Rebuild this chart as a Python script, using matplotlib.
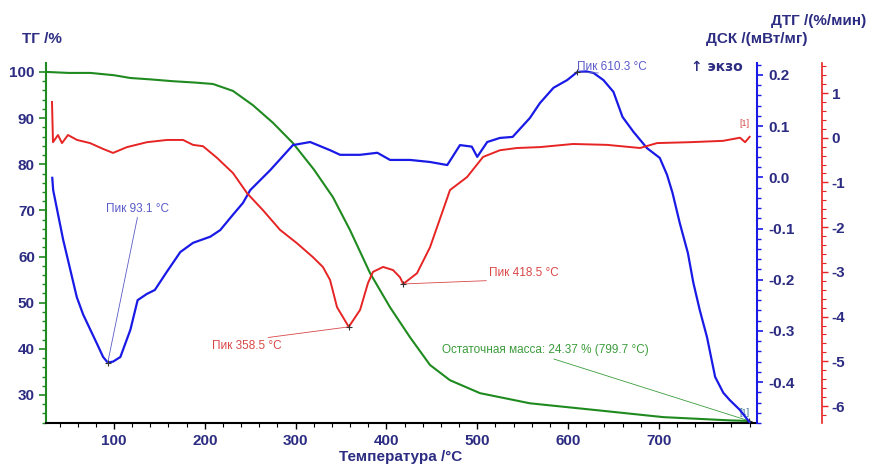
import matplotlib
matplotlib.use('Agg')
import matplotlib.pyplot as plt
from matplotlib.ticker import MultipleLocator

plt.rcParams['font.family'] = ['Liberation Sans', 'DejaVu Sans']
plt.rcParams['axes.unicode_minus'] = False

# ---- data ----
T_tg = [27, 50, 74, 100, 118, 140, 165, 190, 209, 231, 253, 275, 297, 320, 341,
        360, 382, 404, 426, 448, 470, 503, 558, 632, 705, 778, 799.7]
tg = [100.0, 99.8, 99.8, 99.3, 98.7, 98.4, 98.0, 97.7, 97.4, 95.9, 92.8, 89.0, 84.6,
      78.9, 72.9, 65.7, 56.4, 49.0, 42.5, 36.5, 33.2, 30.4, 28.2, 26.7, 25.2, 24.5, 24.37]

T_dsc = [32, 33, 44, 59, 66, 74, 82, 88, 93.1, 99, 107, 118, 126, 136, 145, 158, 173, 187, 206,
         217, 231, 242, 250, 272, 297, 316, 338, 349, 371, 390, 404, 426, 448, 467,
         481, 494, 500, 511, 525, 539, 558, 569, 584, 599, 610.3, 620, 628, 639, 650, 660,
         672, 687, 701, 709, 715, 723, 732, 738, 745, 753, 762, 771, 778, 789, 799.7]
dsc = [-0.001, -0.025, -0.122, -0.234, -0.268, -0.298, -0.328, -0.351, -0.362, -0.360, -0.351,
       -0.298, -0.240, -0.228, -0.220, -0.185, -0.146, -0.128, -0.116, -0.103, -0.073,
       -0.050, -0.025, 0.014, 0.063, 0.069, 0.053, 0.044, 0.044, 0.048, 0.034, 0.034,
       0.030, 0.024, 0.063, 0.060, 0.040, 0.069, 0.077, 0.079, 0.116, 0.145, 0.175,
       0.190, 0.206, 0.207, 0.204, 0.190, 0.167, 0.118, 0.089, 0.057, 0.038, 0.005,
       -0.030, -0.089, -0.148, -0.206, -0.259, -0.312, -0.390, -0.421, -0.435, -0.454,
       -0.478]

T_dtg = [31.7, 32.8, 38.3, 42.7, 49.3, 59.3, 73.6, 87.9, 98.9, 114.3, 136.3, 158.4,
         176, 187, 198, 213.4, 231, 246.5, 264, 282.8, 301.5, 319, 330, 337.9, 345.6,
         358.5, 371, 379.7, 385.2, 396.3, 407.3, 414.9, 418.5, 433.7, 448, 462.3, 470,
         488.8, 506.4, 525, 543.8, 569, 605.5, 643, 679.3, 698, 734, 770.7, 789.4, 795, 800]
dtg = [0.8, -0.1, 0.06, -0.12, 0.06, -0.05, -0.12, -0.25, -0.34, -0.21, -0.10, -0.05,
       -0.05, -0.16, -0.19, -0.45, -0.79, -1.24, -1.62, -2.06, -2.36, -2.67, -2.89,
       -3.18, -3.79, -4.23, -3.85, -3.25, -3.0, -2.89, -2.96, -3.12, -3.27, -3.03,
       -2.45, -1.62, -1.17, -0.88, -0.43, -0.28, -0.23, -0.21, -0.14, -0.16, -0.23,
       -0.12, -0.10, -0.07, 0.0, -0.1, 0.02]

peak_dsc = [(93.1, -0.362, 'Пик 93.1 °C'), (610.3, 0.206, 'Пик 610.3 °C')]
peak_dtg = [(358.5, -4.23, 'Пик 358.5 °C'), (418.5, -3.27, 'Пик 418.5 °C')]
residual = (799.7, 24.37, 'Остаточная масса: 24.37 % (799.7 °C)')

# ---- styling ----
GREEN = '#1f8a1f'
BLUE = '#1a1ae6'
RED = '#e62424'
NAVY = '#2c2c82'

W, H = 874, 465
fig = plt.figure(figsize=(W / 100, H / 100), dpi=100)
L, R, B, Tp = 46, 757, 423, 63
ax = fig.add_axes([L / W, 1 - B / H, (R - L) / W, (B - Tp) / H])
ax2 = ax.twinx()
ax3 = ax.twinx()

ax.set_xlim(25.1, 808.1)
ax.set_ylim(23.93, 101.95)
ax2.set_ylim(-0.480, 0.2234)
ax3.set_ylim(-6.38, 1.671)

ax.plot(T_tg, tg, color=GREEN, lw=1.5, zorder=3)
ax2.plot(T_dsc, dsc, color=BLUE, lw=1.6, zorder=3)
ax3.plot(T_dtg, dtg, color=RED, lw=1.4, zorder=2)

# spines
for s in ['top', 'right']:
    ax.spines[s].set_visible(False)
ax.spines['left'].set_color(GREEN)
ax.spines['left'].set_linewidth(1.5)
ax.spines['bottom'].set_color('black')
ax.spines['bottom'].set_linewidth(1.5)
for s in ['top', 'left', 'bottom']:
    ax2.spines[s].set_visible(False)
    ax3.spines[s].set_visible(False)
ax2.spines['right'].set_color(BLUE)
ax2.spines['right'].set_linewidth(1.5)
ax3.spines['right'].set_position(('axes', (822 - L) / (R - L)))
ax3.spines['right'].set_color(RED)
ax3.spines['right'].set_linewidth(1.2)

TS = 11
# ticks
ax.set_xticks([100, 200, 300, 400, 500, 600, 700])
ax.xaxis.set_minor_locator(MultipleLocator(20))
ax.tick_params(axis='x', which='major', length=4, width=1, color='black', pad=4,
               labelsize=TS, labelcolor=NAVY)
ax.tick_params(axis='x', which='minor', length=3, width=0.8, color='black')
ax.set_yticks([30, 40, 50, 60, 70, 80, 90, 100])
ax.yaxis.set_minor_locator(MultipleLocator(2))
ax.tick_params(axis='y', which='major', length=5, width=1.2, color=GREEN, pad=3,
               labelsize=TS, labelcolor=NAVY)
ax.tick_params(axis='y', which='minor', length=3, width=1, color=GREEN)

ax2.set_yticks([-0.4, -0.3, -0.2, -0.1, 0.0, 0.1, 0.2])
ax2.set_yticklabels(['-0.4', '-0.3', '-0.2', '-0.1', '0.0', '0.1', '0.2'])
ax2.yaxis.set_minor_locator(MultipleLocator(0.02))
ax2.tick_params(axis='y', which='major', length=4, width=1.2, color=BLUE, pad=4,
                labelsize=TS, labelcolor=NAVY)
ax2.tick_params(axis='y', which='minor', length=3, width=1, color=BLUE)

ax3.set_yticks([-6, -5, -4, -3, -2, -1, 0, 1])
ax3.yaxis.set_minor_locator(MultipleLocator(0.2))
ax3.tick_params(axis='y', which='major', length=4, width=1, color=RED, pad=3,
                labelsize=TS, labelcolor=NAVY)
ax3.tick_params(axis='y', which='minor', length=3, width=0.8, color=RED)

for a in (ax, ax2, ax3):
    for lab in a.get_xticklabels() + a.get_yticklabels():
        lab.set_fontweight('bold')

# axis titles
fig.text(22 / W, 1 - 39 / H, 'ТГ /%', color=NAVY, fontsize=11, fontweight='bold',
         ha='left', va='center')
fig.text(808 / W, 1 - 39 / H, 'ДСК /(мВт/мг)', color=NAVY, fontsize=11, fontweight='bold',
         ha='right', va='center')
fig.text(866 / W, 1 - 21 / H, 'ДТГ /(%/мин)', color=NAVY, fontsize=11, fontweight='bold',
         ha='right', va='center')
fig.text(743 / W, 1 - 67 / H, '↑ экзо', color=NAVY, fontsize=10, fontweight='bold',
         ha='right', va='center', family=['DejaVu Sans'])
fig.text(401 / W, 1 / H, 'Температура /°C', color=NAVY, fontsize=11,
         fontweight='bold', ha='center', va='bottom')

# annotations
AC_B = '#5a5ac8'
AC_R = '#d84848'
AC_G = '#3c9c3c'
fs = 8.5

ax2.annotate(peak_dsc[0][2], xy=peak_dsc[0][:2], xytext=(126.4, -0.073),
             ha='center', va='bottom', fontsize=fs, color=AC_B,
             arrowprops=dict(arrowstyle='-', color=AC_B, lw=0.6, shrinkA=0, shrinkB=0,
                             relpos=(0.5, 0)))
ax2.annotate(peak_dsc[1][2], xy=peak_dsc[1][:2], xytext=(610.3, 0.2156),
             ha='left', va='center', fontsize=fs, color=AC_B,
             arrowprops=dict(arrowstyle='-', color=AC_B, lw=0.6, shrinkA=0, shrinkB=0,
                             relpos=(0.3, 0)))
ax3.annotate(peak_dtg[0][2], xy=peak_dtg[0][:2], xytext=(246.5, -4.53),
             ha='center', va='top', fontsize=fs, color=AC_R,
             arrowprops=dict(arrowstyle='-', color=AC_R, lw=0.6, shrinkA=0, shrinkB=0,
                             relpos=(0.5, 1)))
ax3.annotate(peak_dtg[1][2], xy=peak_dtg[1][:2], xytext=(551.5, -3.03),
             ha='center', va='center', fontsize=fs, color=AC_R,
             arrowprops=dict(arrowstyle='-', color=AC_R, lw=0.6, shrinkA=0, shrinkB=0,
                             relpos=(0.5, 0)))
ax.annotate(residual[2], xy=residual[:2], xytext=(574.7, 39.7),
            ha='center', va='center', fontsize=fs, color=AC_G,
            arrowprops=dict(arrowstyle='-', color=AC_G, lw=0.6, shrinkA=0, shrinkB=0,
                            relpos=(0.5, 0)))

# peak markers
for t, v, _ in peak_dsc:
    ax2.plot([t], [v], marker='+', color='#333333', ms=5, mew=0.8, zorder=5)
for t, v, _ in peak_dtg:
    ax3.plot([t], [v], marker='+', color='#333333', ms=5, mew=0.8, zorder=5)
ax.plot([residual[0]], [residual[1]], marker='+', color='#333333', ms=5, mew=0.8, zorder=5)

# curve tags
ax3.text(T_dtg[-1], dtg[-1] + 0.2, '[1]', color=AC_R, fontsize=6.5,
         ha='right', va='bottom')
ax.text(T_tg[-1], tg[-1] + 0.8, '[1]', color='#2a6a8a', fontsize=6.5,
        ha='right', va='bottom')

fig.savefig('out.png', dpi=100)
